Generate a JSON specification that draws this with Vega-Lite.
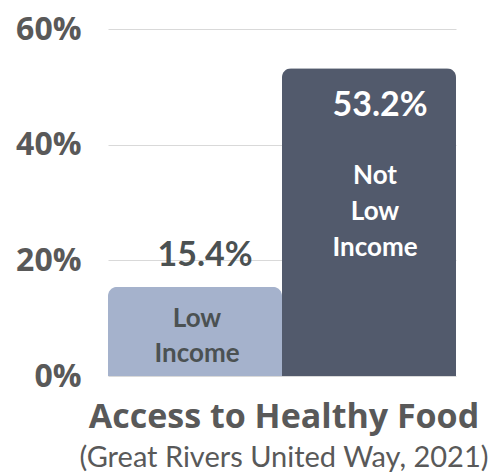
{
  "$schema": "https://vega.github.io/schema/vega-lite/v6.json",
  "autosize": "none",
  "width": 348,
  "height": 347,
  "padding": {"left": 108, "top": 29, "right": 45, "bottom": 100},
  "background": "white",
  "config": {"view": {"stroke": null}},
  "data": {"values": [
    {"group": "Low Income", "value": 0.154},
    {"group": "Not Low Income", "value": 0.532}
  ]},
  "title": {
    "text": "Access to Healthy Food",
    "subtitle": "(Great Rivers United Way, 2021)",
    "orient": "bottom",
    "anchor": "middle",
    "frame": "group",
    "offset": 9,
    "dx": 2,
    "font": "Open Sans",
    "fontSize": 34,
    "fontWeight": 700,
    "color": "#595959",
    "subtitleFont": "Lato",
    "subtitleFontSize": 29,
    "subtitleFontWeight": 400,
    "subtitleColor": "#595959",
    "subtitlePadding": 9
  },
  "encoding": {
    "x": {"field": "group", "type": "nominal", "sort": ["Low Income", "Not Low Income"],
      "scale": {"paddingInner": 0, "paddingOuter": 0},
      "axis": null},
    "y": {"field": "value", "type": "quantitative",
      "scale": {"domain": [0, 0.6], "nice": false},
      "axis": {"values": [0, 0.2, 0.4, 0.6], "format": ".0%", "title": null,
        "domain": false, "ticks": false, "labelPadding": 27,
        "labelFont": "Open Sans", "labelFontSize": 32, "labelFontWeight": 700,
        "labelColor": "#595959", "gridColor": "#d9d9d9", "gridWidth": 1.2}}
  },
  "layer": [
    {
      "mark": {"type": "bar", "cornerRadiusTopLeft": 9, "cornerRadiusTopRight": 9},
      "encoding": {
        "color": {"field": "group", "type": "nominal",
          "scale": {"domain": ["Low Income", "Not Low Income"], "range": ["#a5b2cc", "#525a6c"]},
          "legend": null}
      }
    },
    {
      "transform": [{"filter": "datum.group === 'Low Income'"}],
      "mark": {"type": "text", "baseline": "alphabetic", "dy": -21, "dx": 10,
        "font": "Lato", "fontSize": 34, "fontWeight": 700, "color": "#4b5152"},
      "encoding": {"text": {"field": "value", "type": "quantitative", "format": ".1%"}}
    },
    {
      "transform": [{"filter": "datum.group === 'Not Low Income'"}],
      "mark": {"type": "text", "baseline": "alphabetic", "dy": 48, "dx": 11,
        "font": "Lato", "fontSize": 34, "fontWeight": 700, "color": "white"},
      "encoding": {"text": {"field": "value", "type": "quantitative", "format": ".1%"}}
    },
    {
      "transform": [{"filter": "datum.group === 'Low Income'"}],
      "mark": {"type": "text", "baseline": "alphabetic", "dy": 40, "dx": 2,
        "lineBreak": " ", "lineHeight": 35,
        "font": "Lato", "fontSize": 26, "fontWeight": 700, "color": "#4b5152"},
      "encoding": {"text": {"field": "group", "type": "nominal"}}
    },
    {
      "transform": [{"filter": "datum.group === 'Not Low Income'"}],
      "mark": {"type": "text", "baseline": "alphabetic", "dy": 116, "dx": 6,
        "lineBreak": " ", "lineHeight": 36,
        "font": "Lato", "fontSize": 26, "fontWeight": 700, "color": "white"},
      "encoding": {"text": {"field": "group", "type": "nominal"}}
    }
  ]
}
